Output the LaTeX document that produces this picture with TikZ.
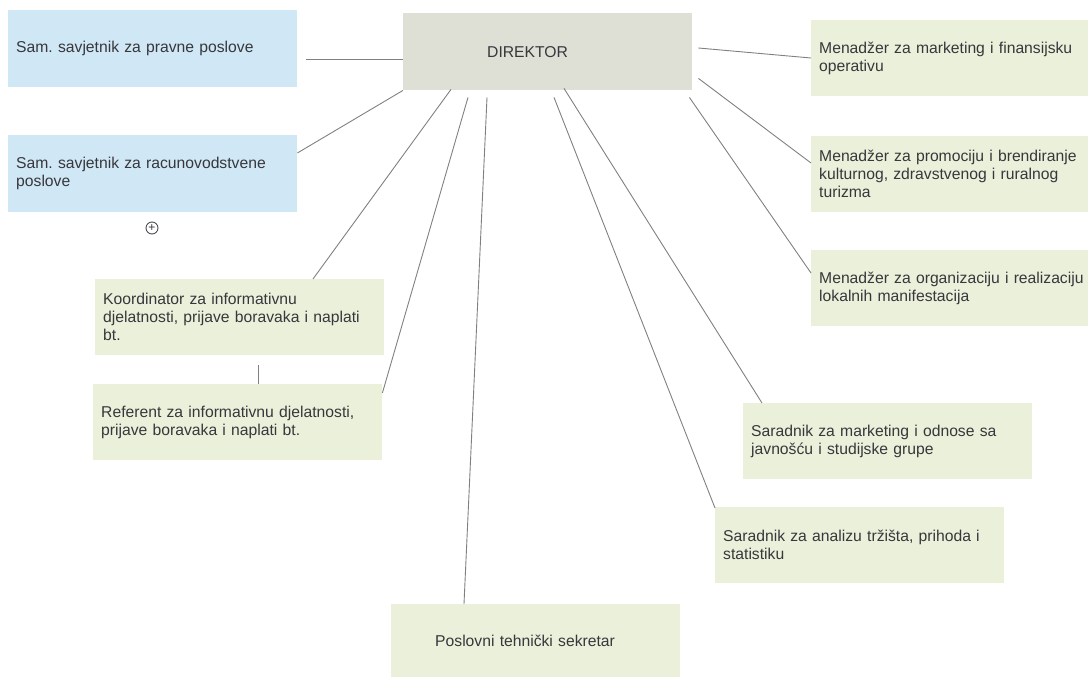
\documentclass[tikz,border=0pt]{standalone}
\usepackage{xcolor}
\usepackage{fontspec}
\setmainfont{Liberation Sans}
\usepackage{tikz}
\usetikzlibrary{positioning}
\usetikzlibrary{calc}
\frenchspacing
\definecolor{boxblue}{RGB}{208,231,245}
\definecolor{boxgreen}{RGB}{235,240,218}
\definecolor{boxgray}{RGB}{222,224,214}
\definecolor{linegray}{RGB}{128,128,128}
\definecolor{txtgray}{RGB}{55,55,60}
\tikzstyle{every box}=[anchor=north west, inner xsep=8pt, inner ysep=0pt, align=left, text=txtgray, font=\fontsize{15.7}{18}\selectfont\frenchspacing]
\tikzstyle{advisor}=[every box, fill=boxblue, minimum width=289pt, minimum height=77pt, text width=273pt]
\tikzstyle{unit}=[every box, fill=boxgreen, minimum width=289pt, minimum height=76pt, text width=273pt]
\tikzstyle{manager}=[every box, fill=boxgreen, minimum width=277pt, minimum height=76pt, text width=290pt]
\tikzstyle{head}=[every box, fill=boxgray, minimum width=289pt, minimum height=77pt, text width=273pt]
\tikzstyle{link}=[draw=linegray, line width=0.9pt]
\tikzstyle{expander}=[circle, draw=txtgray, line width=0.8pt, inner sep=0pt, minimum size=12pt, text=txtgray, font=\fontsize{12}{12}\selectfont]

\begin{document}
\begin{tikzpicture}[x=1pt, y=-1pt]
    \useasboundingbox (0,0) rectangle (1088,677);

    \node [head] (dir) at (403,13) {\hspace*{76pt}DIREKTOR};

    \node [advisor] (legal) at (8,10) {Sam. savjetnik za pravne poslove};
    \node [advisor] (acct) at (8,135) {Sam. savjetnik za racunovodstvene\\poslove};
    \node [expander] (plus) at (152,228) {+};

    \node [manager] (mgr-1) at (811,20) {Menadžer za marketing i finansijsku\\operativu};
    \node [manager] (mgr-2) at (811,136) {Menadžer za promociju i brendiranje\\kulturnog, zdravstvenog i ruralnog\\turizma};
    \node [manager] (mgr-3) at (811,250) {Menadžer za organizaciju i realizaciju\\lokalnih manifestacija};

    \node [unit] (koord) at (95,279) {Koordinator za informativnu\\djelatnosti, prijave boravaka i naplati\\bt.};
    \node [unit] (ref) at (93,384) {Referent za informativnu djelatnosti,\\prijave boravaka i naplati bt.};

    \node [unit] (sar-1) at (743,403) {Saradnik za marketing i odnose sa\\javnošću i studijske grupe};
    \node [unit] (sar-2) at (715,507) {Saradnik za analizu tržišta, prihoda i\\statistiku};

    \node [unit, minimum height=73pt] (sekr) at (391,604) {\hspace*{36pt}Poslovni tehnički sekretar};

    % left side
    \draw [link] ([shift={(9,49)}]legal.north east) -- ([shift={(0,46)}]dir.north west);
    \draw [link] ([shift={(0,18)}]acct.north east) -- (dir.south west);
    \draw [link] ([shift={(218,0)}]koord.north west) -- ([shift={(48,-1)}]dir.south west);
    \draw [link] ([shift={(0,9)}]ref.north east) -- ([shift={(65,7)}]dir.south west);
    \draw [link] ([shift={(163,10)}]koord.south west) -- ([shift={(165,0)}]ref.north west);

    % bottom
    \draw [link] ([shift={(73,0)}]sekr.north west) -- ([shift={(84,7)}]dir.south west);
    \draw [link] ([shift={(0,1)}]sar-2.north west) -- ([shift={(151,7)}]dir.south west);
    \draw [link] ([shift={(19,0)}]sar-1.north west) -- ([shift={(161,-2)}]dir.south west);

    % right side
    \draw [link] ([shift={(0,23)}]mgr-3.north west) -- ([shift={(-3,7)}]dir.south east);
    \draw [link] ([shift={(0,27)}]mgr-2.north west) -- ([shift={(6,-12)}]dir.south east);
    \draw [link] ([shift={(0,38)}]mgr-1.north west) -- ([shift={(6,35)}]dir.north east);
\end{tikzpicture}
\end{document}
